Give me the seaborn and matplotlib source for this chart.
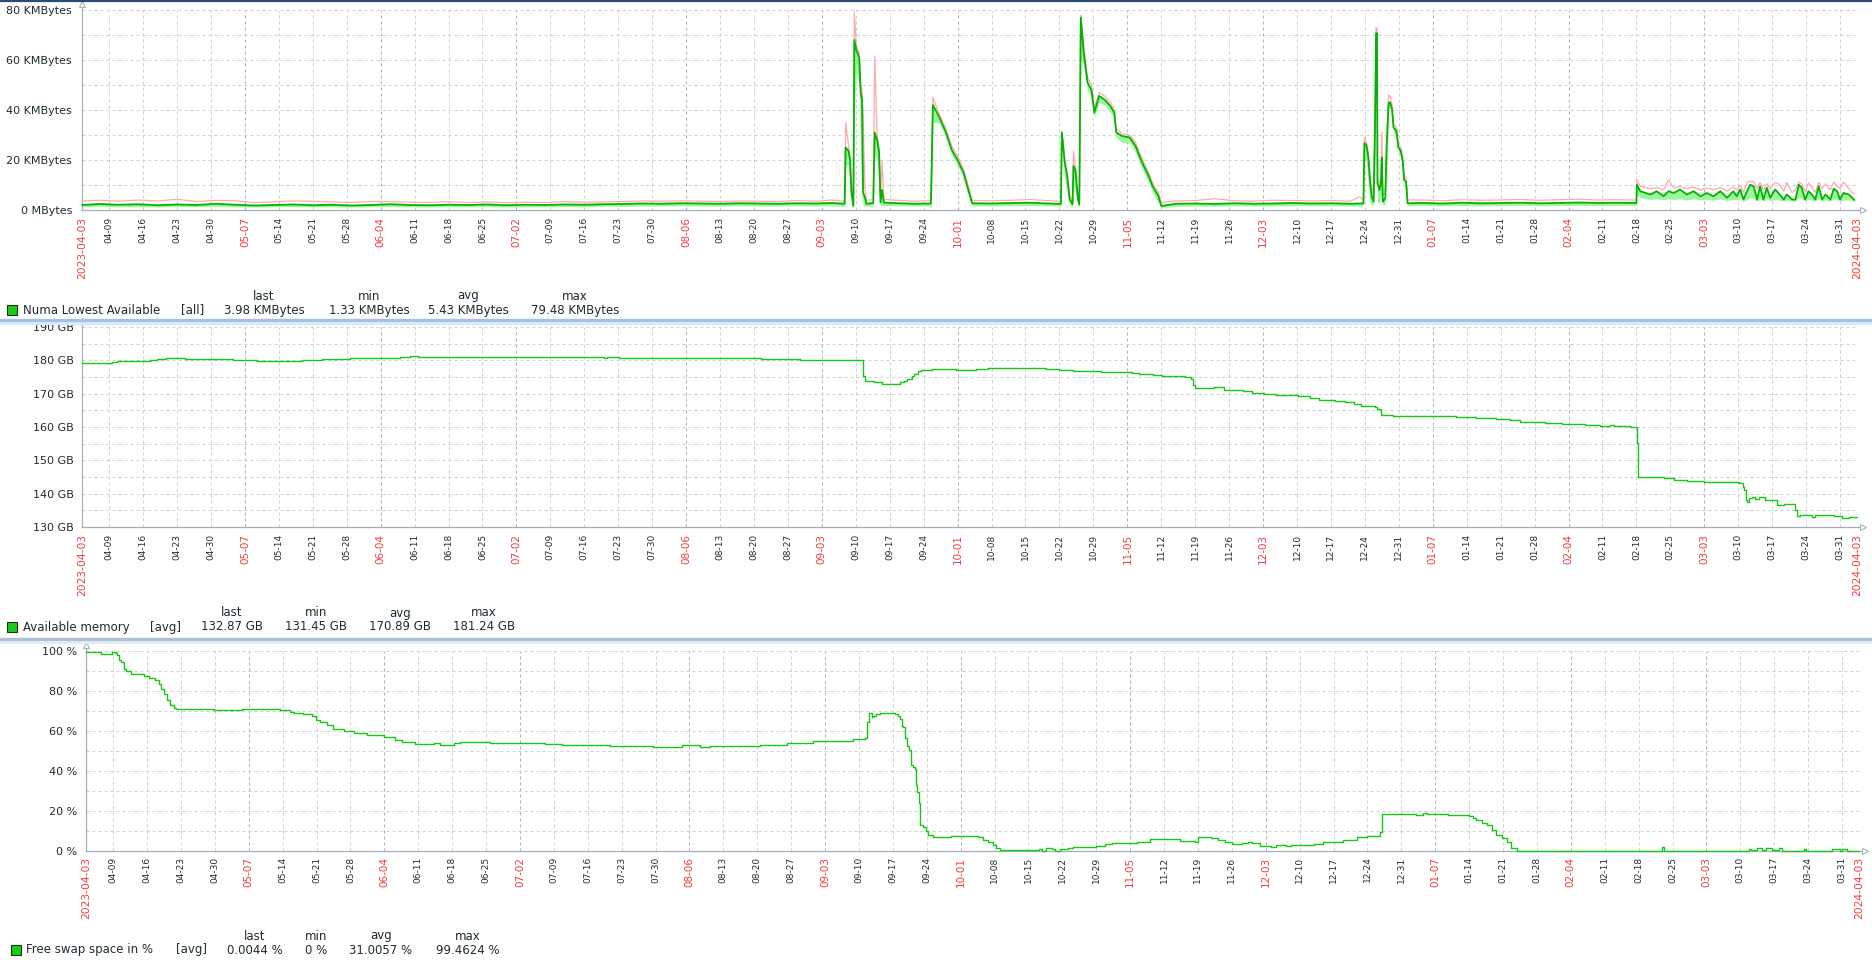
import matplotlib
matplotlib.use('Agg')
import matplotlib.pyplot as plt
import seaborn as sns
import pandas as pd
from matplotlib.lines import Line2D
from matplotlib.patches import Rectangle

W, H = 1872, 960

# x values are days since 2023-04-03 00:00
start = pd.Timestamp('2023-04-03')
x_min, x_max = 0.4, 366.5

# --- Numa Lowest Available (KMBytes), avg / min / max ---
numa_day = [
    0.4, 4, 8, 12, 16, 20, 24, 28, 32, 36, 40, 44, 48, 52, 56, 60, 64, 68, 72, 76,
    80, 84, 88, 92, 96, 100, 104, 108, 112, 116, 120, 124, 128, 132, 136, 140, 144, 148, 152, 155, 157.7,
    157.9, 158.5, 158.8, 159.1, 159.5, 159.7, 160.1, 160.7, 161.0, 161.3, 161.5, 161.9, 162.2, 163.6,
    163.9, 164.4, 164.8, 165.1, 165.4, 165.8, 166.0,
    169, 172, 175.5,
    175.9, 177.1, 178.6, 179.8, 181.0, 182.2, 183.0, 183.8, 184.0,
    188, 192, 196, 200, 202.3,
    202.5, 203.1, 203.6, 204.1, 204.7, 204.9, 205.3, 205.8, 206.1, 206.4, 207.0, 207.8, 208.6, 209.2,
    210.2, 211.4, 212.5, 213.3, 213.7, 214.9, 216.5, 217.7, 218.5, 219.4, 220.4, 221.2, 222.4, 223.0,
    226, 230, 234, 238, 242, 246, 250, 254, 258, 262, 264.0, 264.7,
    264.9, 265.3, 265.7, 266.1, 266.4, 266.8, 267.1, 267.3, 267.5, 267.6, 268.0, 268.3, 268.5, 268.7,
    269.2, 269.5, 269.9, 270.2, 270.6, 270.9, 271.5, 271.9, 272.4, 272.8, 273.1, 273.5, 273.8,
    277, 281, 285, 289, 293, 297, 301, 305, 309, 313, 317, 321.0,
    321.1, 321.8, 323.9, 325.2, 326.6, 327.6, 328.7, 330.0, 331.4, 332.8,
    334.2, 335.5, 336.9, 338.3, 339.7, 341.0, 341.7, 342.4, 343.1, 343.8,
    344.5, 345.2, 345.9, 346.5, 347.2, 347.9, 348.6, 349.6, 350.3, 351.4,
    352.0, 353.1, 353.8, 354.5, 355.1, 355.8, 356.5, 357.2, 357.9, 358.6,
    359.3, 360.0, 361.0, 361.7, 362.4, 363.0, 363.7, 364.8, 365.5, 366.0,
]
numa_avg = [
    2.0, 2.4, 2.1, 2.3, 1.9, 2.2, 2.0, 2.5, 2.1, 1.8, 2.0, 2.2, 1.9, 2.1, 1.8, 2.0, 2.3, 2.0, 1.9, 2.1,
    2.0, 2.2, 1.9, 2.1, 2.0, 2.2, 2.1, 2.3, 2.4, 2.6, 2.5, 2.7, 2.6, 2.5, 2.7, 2.6, 2.5, 2.7, 2.6, 2.8, 2.5,
    25.0, 23.6, 20.0, 7.0, 1.6, 68.0, 64.0, 61.0, 47.0, 44.0, 7.0, 5.0, 2.5, 2.8,
    31.0, 28.0, 23.0, 3.0, 8.0, 3.0, 2.9,
    2.7, 2.5, 2.6,
    42.0, 37.6, 31.0, 24.0, 20.0, 15.0, 9.6, 4.3, 2.7,
    2.6, 2.8, 2.9, 2.6, 2.4,
    31.0, 19.0, 13.6, 4.3, 2.3, 17.6, 16.0, 4.3, 2.3, 77.0, 63.0, 51.0, 48.0, 39.0,
    45.6, 44.0, 41.6, 39.0, 31.0, 29.6, 29.0, 25.6, 21.6, 17.6, 13.6, 9.6, 5.6, 1.6,
    2.5, 2.6, 2.4, 2.7, 2.5, 2.6, 2.8, 2.6, 2.7, 2.5, 2.6, 2.7,
    26.7, 26.0, 21.3, 10.7, 5.3, 3.3, 34.7, 70.7, 70.7, 10.7, 8.0, 10.7, 21.0, 3.3,
    4.7, 26.0, 43.0, 43.0, 40.4, 33.0, 31.7, 25.0, 23.7, 19.7, 12.0, 11.4, 2.7,
    2.8, 2.6, 2.9, 2.7, 2.8, 2.9, 2.7, 2.8, 3.0, 2.8, 2.9, 2.8,
    10.1, 7.5, 6.2, 7.5, 5.5, 7.5, 6.8, 8.2, 6.2, 7.5,
    5.5, 6.8, 5.5, 7.5, 4.9, 7.5, 5.5, 8.2, 4.2, 7.5,
    10.1, 9.5, 4.2, 9.5, 4.2, 8.9, 4.9, 8.2, 6.8, 4.2,
    6.2, 4.2, 4.2, 10.1, 8.9, 4.2, 7.5, 6.2, 4.2, 9.5,
    4.2, 6.2, 4.2, 8.5, 7.5, 4.2, 6.8, 6.2, 4.9, 4.0,
]
numa_min = [
    1.3, 1.5, 1.3, 1.4, 1.2, 1.4, 1.3, 1.5, 1.3, 1.2, 1.3, 1.4, 1.2, 1.3, 1.2, 1.3, 1.4, 1.3, 1.2, 1.3,
    1.3, 1.4, 1.2, 1.3, 1.3, 1.4, 1.3, 1.5, 1.5, 1.6, 1.6, 1.7, 1.6, 1.6, 1.7, 1.6, 1.6, 1.7, 1.6, 1.7, 1.5,
    18.0, 18.0, 10.0, 2.0, 1.0, 40.0, 55.0, 50.0, 20.0, 5.0, 2.0, 1.5, 1.5, 1.7,
    22.0, 20.0, 8.0, 1.5, 2.0, 1.5, 1.8,
    1.7, 1.6, 1.6,
    35.0, 35.0, 29.0, 22.0, 18.0, 13.0, 7.0, 2.5, 1.7,
    1.6, 1.8, 1.8, 1.7, 1.6,
    25.0, 12.0, 8.0, 2.0, 1.2, 10.0, 8.0, 1.5, 1.2, 60.0, 58.0, 48.0, 45.0, 37.0,
    43.0, 42.0, 39.0, 37.0, 29.0, 27.0, 27.0, 23.0, 19.0, 15.0, 11.0, 7.0, 3.0, 1.0,
    1.5, 1.6, 1.5, 1.7, 1.6, 1.6, 1.8, 1.7, 1.7, 1.6, 1.6, 1.7,
    20.0, 20.0, 10.0, 3.0, 2.0, 2.0, 15.0, 55.0, 50.0, 3.0, 3.0, 5.0, 8.0, 2.0,
    2.0, 12.0, 40.0, 41.0, 38.0, 31.0, 29.0, 23.0, 21.0, 17.0, 9.0, 8.0, 1.8,
    1.8, 1.7, 1.8, 1.7, 1.8, 1.9, 1.8, 1.8, 1.9, 1.8, 1.9, 1.8,
    6.0, 5.0, 4.2, 4.5, 4.0, 4.5, 4.2, 4.5, 4.0, 4.5,
    4.0, 4.2, 4.0, 4.5, 3.8, 4.2, 4.0, 4.5, 3.6, 4.2,
    5.0, 4.5, 3.6, 4.5, 3.6, 4.5, 3.8, 4.2, 4.0, 3.6,
    4.0, 3.6, 3.6, 5.0, 4.5, 3.6, 4.2, 4.0, 3.6, 4.5,
    3.6, 4.0, 3.6, 4.5, 4.2, 3.6, 4.0, 4.0, 3.8, 3.6,
]
numa_max = [
    3.6, 3.9, 3.5, 4.0, 3.6, 4.3, 3.4, 3.8, 3.7, 2.9, 3.3, 3.6, 3.5, 3.2, 3.0, 3.4, 3.3, 3.1, 3.0, 3.3,
    3.0, 3.2, 2.9, 3.1, 3.0, 3.3, 3.1, 3.2, 3.4, 3.6, 3.5, 3.7, 3.5, 3.4, 3.6, 3.5, 3.4, 3.8, 3.5, 4.0, 3.5,
    35.0, 26.0, 22.0, 10.0, 3.0, 79.5, 66.0, 63.0, 50.0, 48.0, 38.0, 8.0, 4.0, 4.0,
    61.5, 30.0, 25.0, 5.0, 19.5, 4.5, 4.2,
    3.8, 3.5, 3.7,
    45.0, 39.0, 32.5, 25.5, 21.5, 16.5, 11.0, 5.5, 3.8,
    3.7, 3.9, 4.2, 3.7, 3.4,
    31.6, 20.0, 15.0, 6.0, 3.5, 23.6, 17.0, 6.0, 3.5, 78.0, 66.0, 53.0, 50.0, 41.0,
    47.0, 45.5, 43.0, 40.5, 32.5, 30.5, 30.0, 27.0, 23.0, 19.0, 15.0, 11.0, 7.0, 3.0,
    3.6, 3.8, 4.5, 3.7, 3.5, 3.9, 3.8, 3.6, 3.8, 3.5, 5.3, 3.6,
    29.0, 27.5, 23.0, 13.0, 10.0, 6.0, 37.0, 73.0, 72.5, 13.0, 10.0, 13.0, 31.0, 6.0,
    6.5, 28.0, 46.0, 45.5, 42.0, 34.5, 33.0, 26.5, 25.0, 21.0, 13.5, 13.0, 4.0,
    4.0, 3.7, 4.1, 3.9, 4.0, 4.2, 3.9, 4.1, 4.3, 4.0, 4.1, 4.0,
    12.0, 9.5, 8.5, 9.0, 8.0, 12.0, 8.8, 9.5, 8.5, 9.2,
    8.0, 8.8, 8.2, 9.0, 7.5, 9.2, 8.0, 10.0, 7.0, 11.0,
    11.5, 11.2, 8.5, 11.0, 8.0, 10.5, 8.5, 11.0, 10.5, 7.5,
    11.0, 7.0, 8.0, 11.2, 10.5, 7.5, 10.8, 9.0, 7.0, 11.0,
    8.5, 10.5, 8.0, 11.2, 9.5, 8.5, 11.2, 8.5, 7.0, 6.5,
]

# --- Available memory (GB) ---
mem_day = [
    0.4, 6.5, 7.7, 14.5, 15.8, 16.8, 17.8, 21.6, 31.6, 36.4, 45.7, 49.8, 55.7, 56.7, 66.0, 68.0,
    69.7, 108.0, 108.7, 111.2, 140.5, 148.4, 161.5, 161.8, 163.7, 165.5, 169.2, 169.9, 170.6, 171.6,
    172.1, 172.8, 173.5, 175.8, 180.6, 184.8, 187.3, 199.2, 201.9, 204.7, 210.5, 216.9, 218.5, 221.4,
    223.1, 228.0, 229.2, 229.6, 230.0, 233.9, 235.9, 237.9, 239.8, 241.8, 244.2, 246.6, 251.3, 253.7,
    255.6, 258.8, 260.8, 262.8, 264.3, 267.1, 267.5, 268.3, 270.7, 283.7, 288.0, 292.0, 295.0, 297.0,
    299.1, 300.1, 302.2, 305.6, 310.4, 313.5, 315.6, 316.3, 319.7, 321.2, 321.4, 326.6, 328.7, 331.4,
    334.9, 342.1, 343.0, 343.2, 343.7, 343.9, 344.3, 344.8, 345.5, 346.2, 347.6, 350.0, 351.4, 353.8,
    354.1, 354.8, 357.2, 357.9, 361.7, 363.4, 364.8, 366.5,
]
mem_gb = [
    179.1, 179.4, 179.7, 180.0, 180.3, 180.5, 180.8, 180.4, 180.2, 179.9, 180.2, 180.4, 180.7, 180.8, 180.9, 181.3,
    181.0, 180.7, 181.0, 180.7, 180.4, 180.1, 175.2, 173.9, 173.5, 173.0, 173.4, 173.9, 174.5, 175.2,
    175.9, 176.9, 177.2, 177.4, 177.2, 177.4, 177.7, 177.4, 177.0, 176.7, 176.5, 176.2, 175.9, 175.5,
    175.2, 175.0, 174.4, 172.7, 171.7, 171.9, 171.2, 171.0, 170.7, 170.2, 170.0, 169.7, 169.2, 168.7,
    168.2, 167.9, 167.4, 167.0, 166.4, 166.0, 165.4, 163.7, 163.4, 163.0, 162.7, 162.5, 162.1, 161.4,
    161.6, 161.4, 161.1, 160.8, 160.6, 160.4, 160.6, 160.4, 160.1, 155.1, 144.9, 144.6, 144.1, 143.9,
    143.5, 143.1, 142.1, 141.1, 138.1, 137.6, 138.6, 139.1, 138.5, 138.9, 138.1, 136.6, 136.9, 135.1,
    133.3, 133.7, 133.1, 133.6, 133.3, 132.6, 132.9, 132.9,
]

# --- Free swap space in % ---
swap_day = [
    0.4, 3.6, 5.8, 6.5, 6.8, 7.2, 7.7, 8.2, 8.7, 9.6,
    12.3, 13.4, 14.7, 15.4, 15.8, 16.5, 17.1, 17.8, 18.5, 18.9,
    26.8, 28.8, 32.6, 40.5, 42.6, 43.3, 45.3, 47.1, 47.8, 48.8,
    50.2, 51.5, 53.6, 55.7, 58.4, 61.9, 64.3, 65.6, 68.4, 72.2,
    73.5, 76.3, 77.7, 83.9, 90.0, 95.2, 98.6, 108.6, 117.5, 123.4,
    127.2, 129.2, 139.6, 145.1, 150.6, 156.1, 158.8, 161.2, 161.6, 162.1,
    162.6, 163.0, 163.6, 164.3, 167.4, 168.1, 168.5, 168.8, 169.1, 169.5,
    170.0, 170.4, 170.7, 171.2, 171.6, 171.8, 172.0, 172.5, 172.7, 173.3,
    173.8, 174.3, 175.2, 179.1, 184.6, 185.7, 186.7, 187.6, 188.4, 189.1,
    197.2, 197.8, 198.7, 199.8, 200.5, 201.6, 203.1, 204.2, 209.0, 210.8,
    212.3, 217.5, 220.1, 226.3, 229.3, 230.0, 232.6, 234.1, 235.5, 237.0,
    239.2, 240.3, 241.1, 242.9, 245.1, 246.2, 248.1, 249.2, 250.3, 254.0,
    255.8, 259.9, 262.8, 265.0, 267.6, 268.0, 275.0, 276.5, 277.2, 281.6,
    286.0, 286.8, 287.5, 288.6, 289.7, 290.7, 291.6, 292.7, 293.8, 294.7,
    295.8, 325.9, 326.3, 343.8, 344.3, 345.5, 346.5, 347.2, 348.5, 349.9,
    350.7, 355.1, 355.6, 361.0, 362.5, 363.0, 364.0, 366.5,
]
swap_pct = [
    99.4, 98.7, 99.4, 98.8, 97.8, 95.7, 94.5, 91.2, 89.8, 88.7,
    87.3, 86.5, 85.3, 83.7, 81.2, 78.7, 75.3, 73.2, 71.7, 71.2,
    70.7, 70.3, 71.0, 70.3, 69.5, 69.2, 68.7, 67.3, 65.7, 64.3,
    62.8, 61.2, 60.0, 59.0, 57.8, 57.0, 55.7, 54.5, 53.7, 54.0,
    53.2, 54.0, 54.5, 54.2, 53.8, 53.3, 52.8, 52.7, 52.2, 52.8,
    52.2, 52.7, 53.2, 54.2, 54.8, 55.2, 55.8, 56.5, 64.7, 69.2,
    66.8, 67.5, 68.5, 69.2, 68.5, 67.5, 66.0, 62.7, 61.8, 56.3,
    52.5, 50.5, 43.0, 41.8, 40.8, 33.0, 29.7, 23.8, 13.0, 12.2,
    10.2, 8.0, 7.2, 7.5, 6.8, 5.5, 4.5, 3.0, 1.3, 0.3,
    0.8, 0.2, 1.3, 0.8, 0.2, 0.8, 1.3, 2.2, 2.7, 3.3,
    3.8, 4.7, 5.8, 5.2, 4.5, 7.2, 6.3, 5.5, 4.7, 3.5,
    3.8, 4.5, 3.8, 2.7, 2.2, 3.2, 2.7, 3.2, 2.8, 3.5,
    4.5, 5.5, 6.8, 7.5, 9.7, 18.5, 18.2, 18.8, 18.5, 18.2,
    17.5, 16.3, 15.5, 14.2, 13.0, 10.5, 8.0, 6.3, 4.7, 1.3,
    0.1, 2.2, 0.1, 0.8, 0.3, 1.3, 0.5, 1.3, 0.5, 1.3,
    0.2, 1.2, 0.1, 0.8, 0.2, 0.8, 0.05, 0.0,
]

# y axis labels
numa_ticks = [0, 20, 40, 60, 80]
numa_labels = ['0 MBytes', '20 KMBytes', '40 KMBytes', '60 KMBytes', '80 KMBytes']
mem_ticks = [130, 140, 150, 160, 170, 180, 190]
mem_labels = ['130 GB', '140 GB', '150 GB', '160 GB', '170 GB', '180 GB', '190 GB']
swap_ticks = [0, 20, 40, 60, 80, 100]
swap_labels = ['0 %', '20 %', '40 %', '60 %', '80 %', '100 %']

# legend rows
legend_heads = ['last', 'min', 'avg', 'max']
numa_stats = ['3.98 KMBytes', '1.33 KMBytes', '5.43 KMBytes', '79.48 KMBytes']
mem_stats = ['132.87 GB', '131.45 GB', '170.89 GB', '181.24 GB']
swap_stats = ['0.0044 %', '0 %', '31.0057 %', '99.4624 %']

# weekly tick labels (Sundays), first Sunday of the month in red
sundays = pd.date_range('2023-04-09', '2024-03-31', freq='7D')
week_pos = [(d - start).days for d in sundays]
week_lbl = [d.strftime('%m-%d') for d in sundays]
week_red = [d.day <= 7 for d in sundays]

TXT = '#1f2c33'
RED = '#f03c3c'
AXC = '#a3afbb'
GRID = '#c9d0d6'
GRID_DARK = '#a9b3bc'

sns.set_style('white')
plt.rcParams['font.family'] = ['DejaVu Sans']

fig = plt.figure(figsize=(W / 100, H / 100), dpi=100)


def rect(left, top, width, height):
    return [left / W, 1 - (top + height) / H, width / W, height / H]


def style_axis(ax, ylim, ticks, labels, minor, ypad, xpad):
    ax.set_xlim(x_min, x_max)
    ax.set_ylim(*ylim)
    ax.set_yticks(ticks)
    ax.set_yticklabels(labels)
    ax.set_yticks(minor, minor=True)
    ax.set_xticks([x_min] + week_pos + [x_max])
    ax.set_xticklabels(['2023-04-03'] + week_lbl + ['2024-04-03'], rotation=90)
    red = [True] + week_red + [True]
    for i, t in enumerate(ax.get_xticklabels()):
        if i == 0 or i == len(red) - 1:
            t.set_color(RED)
            t.set_fontsize(7.7)
        elif red[i]:
            t.set_color(RED)
            t.set_fontsize(7.5)
        else:
            t.set_color(TXT)
            t.set_fontsize(6.5)
    ax.set_axisbelow(True)
    ax.grid(True, which='both', axis='y', color=GRID, linestyle=(0, (3, 3)), linewidth=0.72)
    ax.grid(True, which='major', axis='x', color=GRID, linestyle=(0, (3, 3)), linewidth=0.72)
    for i, g in enumerate(ax.get_xgridlines()):
        if red[i]:
            g.set_color(GRID_DARK)
    ax.tick_params(axis='both', which='both', length=0)
    ax.tick_params(axis='y', pad=ypad, labelsize=8, labelcolor=TXT)
    ax.tick_params(axis='x', pad=xpad)
    for s in ['top', 'right']:
        ax.spines[s].set_visible(False)
    for s in ['left', 'bottom']:
        ax.spines[s].set_color(AXC)
        ax.spines[s].set_linewidth(0.9)
    # little hollow arrows at the axis ends
    ax.plot([0, 0], [1, 1.03], transform=ax.transAxes, color=AXC, lw=0.9, clip_on=False)
    ax.plot([0], [1.03], marker='^', ms=5, mfc='white', mec=AXC, mew=0.8,
            transform=ax.transAxes, clip_on=False)
    ax.plot([1, 1.0035], [0, 0], transform=ax.transAxes, color=AXC, lw=0.9, clip_on=False)
    ax.plot([1.0035], [0], marker='>', ms=5, mfc='white', mec=AXC, mew=0.8,
            transform=ax.transAxes, clip_on=False)
    ax.set_xlabel('')
    ax.set_ylabel('')
    # data lines go over the axis line
    for ln in ax.lines[:-4]:
        ln.set_zorder(3)
        ln.set_clip_on(False)


ax1 = fig.add_axes(rect(82, 10, 1775, 200))
ax2 = fig.add_axes(rect(82, 327, 1775, 200))
ax3 = fig.add_axes(rect(86, 651, 1773, 200))

# panel 1: min..avg band, max line, avg line
ax1.fill_between(numa_day, numa_min, numa_avg, color='#9df59d', lw=0)
sns.lineplot(x=numa_day, y=numa_max, ax=ax1, color='#ffaaaa', linewidth=0.9,
             estimator=None, sort=False)
sns.lineplot(x=numa_day, y=numa_avg, ax=ax1, color='#00b400', linewidth=1.3,
             estimator=None, sort=False)
style_axis(ax1, (0, 80), numa_ticks, numa_labels, [10, 30, 50, 70], 7.2, 4.8)

# panel 2
sns.lineplot(x=mem_day, y=mem_gb, ax=ax2, color='#14c814', linewidth=1.0,
             drawstyle='steps-post', estimator=None, sort=False)
style_axis(ax2, (130, 190), mem_ticks, mem_labels, [135, 145, 155, 165, 175, 185], 5.8, 5)

# panel 3
sns.lineplot(x=swap_day, y=swap_pct, ax=ax3, color='#14c814', linewidth=1.0,
             drawstyle='steps-post', estimator=None, sort=False)
style_axis(ax3, (0, 100), swap_ticks, swap_labels, [10, 30, 50, 70, 90], 6.2, 4)

# widget separators
fig.add_artist(Line2D([0, 1], [1 - 1 / H] * 2, transform=fig.transFigure, color='#2b4a74', lw=1.6))
for y, c1, c2 in [(319.5, '#a3c0ea', '#dce8f7'), (639.0, '#adbfda', '#e2e9f3')]:
    fig.add_artist(Line2D([0, 1], [1 - y / H] * 2, transform=fig.transFigure, color=c1, lw=2.4))
    fig.add_artist(Line2D([0, 1], [1 - (y + 3) / H] * 2, transform=fig.transFigure, color=c2, lw=2.2))


def ftext(x, y, s, ha='left', size=8.5):
    fig.text(x / W, 1 - y / H, s, ha=ha, va='center', fontsize=size, color=TXT)


def legend_row(sq_x, y_head, y_row, name, name_x, func, func_x, centers, stats):
    fig.add_artist(Rectangle((sq_x / W, 1 - (y_row + 5) / H), 10 / W, 10 / H,
                             transform=fig.transFigure, facecolor='#1ec81e',
                             edgecolor='#0c3a0c', lw=0.8))
    ftext(name_x, y_row, name)
    ftext(func_x, y_row, func)
    for cx, head, val in zip(centers, legend_heads, stats):
        ftext(cx, y_head, head, ha='center')
        ftext(cx, y_row, val, ha='center')


legend_row(7, 296, 310, 'Numa Lowest Available', 23, '[all]', 181,
           [264, 369, 468, 575], numa_stats)
legend_row(7, 613, 627, 'Available memory', 23, '[avg]', 150,
           [232, 316, 400, 484], mem_stats)
legend_row(11, 936, 950, 'Free swap space in %', 26, '[avg]', 176,
           [255, 316, 381, 468], swap_stats)

fig.savefig('out.png', dpi=100)
